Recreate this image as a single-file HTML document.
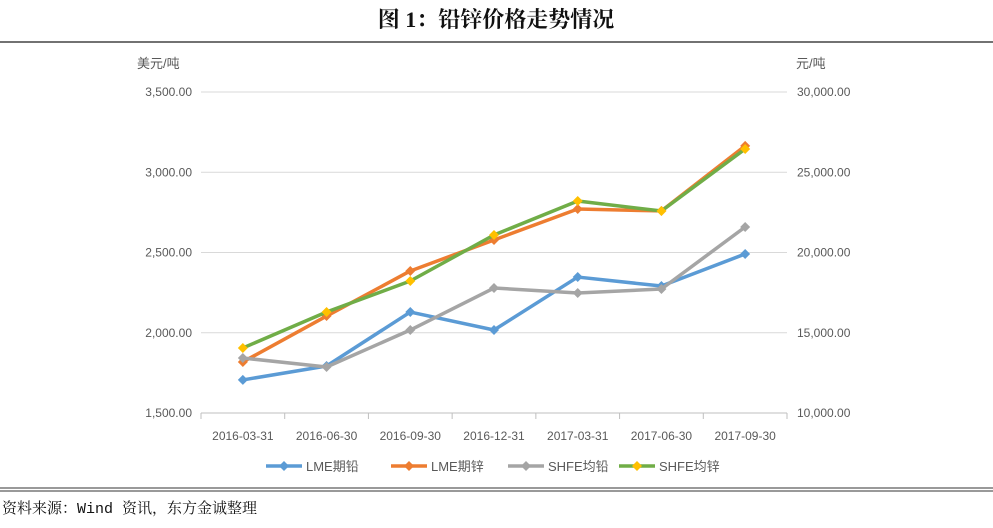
<!DOCTYPE html>
<html><head><meta charset="utf-8"><style>
body{margin:0;background:#fff;width:993px;height:523px;overflow:hidden;font-family:"Liberation Sans","Noto Sans CJK SC",sans-serif}
</style></head><body>
<svg width="993" height="523" xmlns="http://www.w3.org/2000/svg" id="chart">
<text x="496" y="27" text-anchor="middle" font-family="Liberation Serif, Noto Serif CJK SC, serif" font-weight="bold" font-size="22" fill="#111">图 1：铅锌价格走势情况</text>
<line x1="0" y1="42" x2="993" y2="42" stroke="#444" stroke-width="1.5"/>
<text x="137" y="68" font-size="13" fill="#595959">美元/吨</text>
<text x="796" y="68" font-size="13" fill="#595959">元/吨</text>
<g id="grid"></g><g id="series"></g><g id="legend"></g>
<line x1="0" y1="488" x2="993" y2="488" stroke="#333" stroke-width="1"/>
<line x1="0" y1="491" x2="993" y2="491" stroke="#333" stroke-width="1"/>
<text x="2" y="513" font-size="15" fill="#111" font-family="Liberation Mono, Noto Serif CJK SC, monospace">资料来源：Wind 资讯，东方金诚整理</text>
</svg>
<script>
const categories=["2016-03-31","2016-06-30","2016-09-30","2016-12-31","2017-03-31","2017-06-30","2017-09-30"];
const leftTicks=[1500,2000,2500,3000,3500];
const rightTicks=[10000,15000,20000,25000,30000];
const lmeLead=[1706,1793,2129,2017,2347,2291,2491];
const lmeZinc=[1818,2104,2385,2578,2771,2759,3164];
const shfeLead=[13427,12866,15171,17788,17477,17726,21589];
const shfeZinc=[14050,16293,18224,21090,23209,22586,26449];
const seriesNames=["LME期铅","LME期锌","SHFE均铅","SHFE均锌"];
const NS="http://www.w3.org/2000/svg";
const x0=201,x1=787,yTop=92,yBot=413;
const step=(x1-x0)/categories.length;
const xs=i=>x0+step*(i+0.5);
const yL=v=>yBot-(v-1500)/2000*(yBot-yTop);
const yR=v=>yBot-(v-10000)/20000*(yBot-yTop);
function mk(t,a,p){const e=document.createElementNS(NS,t);for(const k in a)e.setAttribute(k,a[k]);p.appendChild(e);return e;}
const grid=document.getElementById('grid');
leftTicks.forEach((v,i)=>{
 const l=mk('line',{x1:x0,x2:x1,y1:yL(v),y2:yL(v),stroke:i==0?'#bfbfbf':'#d9d9d9','stroke-width':1},grid);
 
 
 const t=mk('text',{x:192,y:yL(v)+4,'text-anchor':'end','font-size':12,fill:'#595959'},grid);
 t.textContent=v.toLocaleString('en-US',{minimumFractionDigits:2});
 
 
});
rightTicks.forEach(v=>{
 const t=mk('text',{x:797,y:yR(v)+4,'font-size':12,fill:'#595959'},grid);
 t.textContent=v.toLocaleString('en-US',{minimumFractionDigits:2});
 
 
});
for(let i=0;i<=categories.length;i++){
 const l=mk('line',{x1:x0+step*i,x2:x0+step*i,y1:yBot,y2:yBot+6,stroke:'#bfbfbf'},grid);
 
 
}
categories.forEach((c,i)=>{
 const t=mk('text',{x:xs(i),y:440,'text-anchor':'middle','font-size':12,fill:'#595959'},grid);
 t.textContent=c;
 
 
});
const sdefs=[[lmeLead,yL,'#5b9bd5','#5b9bd5'],[lmeZinc,yL,'#ed7d31','#ed7d31'],[shfeLead,yR,'#a5a5a5','#a5a5a5'],[shfeZinc,yR,'#70ad47','#ffc000']];
const sg=document.getElementById('series');
const diamond=(x,y,r)=>`${x},${y-r} ${x+r},${y} ${x},${y+r} ${x-r},${y}`;
sdefs.forEach((s,k)=>{
 const g=mk('g',{},sg);
 
 
 const pl=mk('polyline',{points:s[0].map((v,i)=>xs(i)+','+s[1](v)).join(' '),fill:'none',stroke:s[2],'stroke-width':3.5,'stroke-linejoin':'round'},g);
 
 
 s[0].forEach((v,i)=>{
  const p=mk('polygon',{points:diamond(xs(i),s[1](v),5),fill:s[3]},g);
  
  
 });
});
const lg=document.getElementById('legend');
const lx=[266,391,508,619];
seriesNames.forEach((n,k)=>{
 const g=mk('g',{},lg);
 
 
 mk('line',{x1:lx[k],x2:lx[k]+36,y1:466,y2:466,stroke:sdefs[k][2],'stroke-width':3.5},g);
 mk('polygon',{points:diamond(lx[k]+18,466,5),fill:sdefs[k][3]},g);
 const t=mk('text',{x:lx[k]+40,y:471,'font-size':13,fill:'#595959'},g);
 t.textContent=n;
});
</script>
</body></html>
